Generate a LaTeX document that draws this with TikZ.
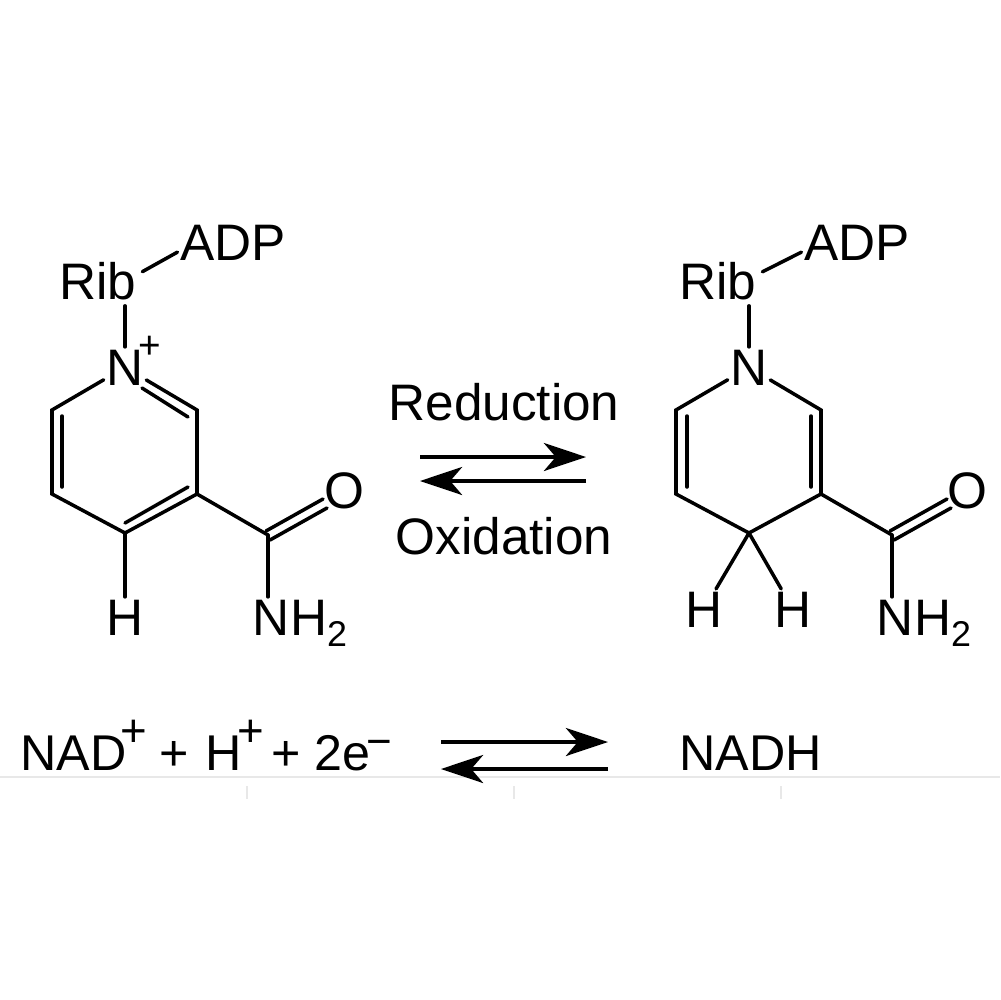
\documentclass[tikz,border=0pt]{standalone}
\usepackage{fontspec}
\setmainfont{Liberation Sans}
\usetikzlibrary{arrows.meta,calc}

\newcommand{\lowtwo}{\raisebox{-3.4pt}{\fontsize{10.2}{12}\selectfont 2}}
\newcommand{\highplus}{\raisebox{6.6pt}{\fontsize{13}{14}\selectfont +}}

\begin{document}
\begin{tikzpicture}[
    x=0.1mm,
    y=-0.1mm,
    >={Stealth[length=12pt,width=8pt,inset=3.4pt]},
    atom/.style={
      inner sep=0pt,
      outer sep=0.8pt,
      anchor=base,
      font=\fontsize{14.6}{16}\selectfont
    },
    word/.style={
      inner sep=0pt,
      anchor=base,
      font=\fontsize{14.6}{16}\selectfont
    },
    formula/.style={
      inner sep=0pt,
      anchor=base west,
      font=\fontsize{14.3}{16}\selectfont
    },
    bond/.style={
      line width=1pt,
      line cap=round
    },
    gap/.style={
      bond,
      shorten <=1pt
    },
    reaction/.style={
      ->,
      draw,
      line width=1pt
    },
    sheet/.style={
      draw=black!9,
      line width=0.4pt
    },
  ]
  \useasboundingbox (0,0) rectangle (1000,1000);

  %%%%%%%%%%%%%%%%%%%%%%%%%%%%%%%%%%%%%%%%%%%%%%
  %%%%%%%%%%%%%%%% ACTUAL NODES %%%%%%%%%%%%%%%%%
  %%%%%%%%%%%%%%%%%%%%%%%%%%%%%%%%%%%%%%%%%%%%%%
  % oxidised form
  \node[atom] (Rib-ox) at (98,299) {Rib};
  \node[atom] (ADP-ox) at (233,260) {ADP};
  \node[atom] (N-ox) at (125,385) {N};
  \node[atom, font=\fontsize{11}{12}\selectfont] (plus-ox) at (150,358) {+};
  \node[atom] (O-ox) at (344,508) {O};
  \node[atom] (H-ox) at (125,635) {H};
  \node[atom] (NH-ox) at (300,635) {NH\lowtwo};

  % reduced form
  \node[atom] (Rib-red) at (718,299) {Rib};
  \node[atom] (ADP-red) at (857,260) {ADP};
  \node[atom] (N-red) at (749,385) {N};
  \node[atom] (O-red) at (967,508) {O};
  \node[atom] (Ha-red) at (704,627) {H};
  \node[atom] (Hb-red) at (793,627) {H};
  \node[atom] (NH-red) at (924,635) {NH\lowtwo};

  % reaction texts
  \node[word] (reduction) at (504,420) {Reduction};
  \node[word] (oxidation) at (504,554) {Oxidation};
  \node[formula] (NAD) at (20,770) {NAD\kern-1.7pt\highplus\kern-0.5pt{} + \kern0.6ptH\kern-1.2pt\highplus\kern-1.8pt{} + 2e\kern-1.1pt\raisebox{3.9pt}{\fontsize{12.5}{14}\selectfont −}};
  \node[formula] (NADH) at (679,770) {NADH};

  %%%%%%%%%%%%%%%%%%%%%%%%%%%%%%%%%%%%%%%%%%%%%%
  %%%%%%%%%%%%%%%% HELPING NODES %%%%%%%%%%%%%%%%
  %%%%%%%%%%%%%%%%%%%%%%%%%%%%%%%%%%%%%%%%%%%%%%
  \coordinate (a-ox) at (197,410);
  \coordinate (b-ox) at (197,494);
  \coordinate (c-ox) at (125,533);
  \coordinate (d-ox) at (52,494);
  \coordinate (e-ox) at (52,410);
  \coordinate (co-ox) at (268,535);

  \coordinate (a-red) at (821,410);
  \coordinate (b-red) at (821,494);
  \coordinate (c-red) at (749,533);
  \coordinate (d-red) at (676,494);
  \coordinate (e-red) at (676,410);
  \coordinate (co-red) at (892,535);

  \coordinate (top-right) at (586,457);
  \coordinate (top-left) at (420,457);
  \coordinate (low-right) at (586,481);
  \coordinate (low-left) at (420,481);
  \coordinate (bot-top-right) at (608,742);
  \coordinate (bot-top-left) at (441,742);
  \coordinate (bot-low-right) at (608,769);
  \coordinate (bot-low-left) at (441,769);

  \coordinate (sheet-left) at (0,777);
  \coordinate (sheet-right) at (1000,777);

  %%%%%%%%%%%%%%%%%%%%%%%%%%%%%%%%%%%%%%%%%%%%%%
  %%%%%%%%%%%%%%%%%% PATHS %%%%%%%%%%%%%%%%%%%%%%
  %%%%%%%%%%%%%%%%%%%%%%%%%%%%%%%%%%%%%%%%%%%%%%
  \path[sheet] (sheet-left) -- (sheet-right);
  \foreach \tick in {247,514,781}
    \path[sheet] (\tick,786) -- (\tick,799);

  \draw[gap] (Rib-ox.10) -- (ADP-ox.190);
  \draw[gap] (N-ox |- Rib-ox.south) -- (N-ox);
  \draw[bond] (N-ox) -- (e-ox) -- (d-ox) -- (c-ox) -- (b-ox) -- (a-ox) -- (N-ox);
  \draw[bond] (62,416) -- (62,487);
  \draw[bond] (125,523) -- (188,487);
  \draw[bond] (142,388) -- (188,417);
  \draw[bond] (b-ox) -- (co-ox);
  \draw[bond] (co-ox) -- (NH-ox.north -| co-ox);
  \draw[bond] (c-ox) -- (H-ox);
  \draw[bond] (266,531) -- (323,499);
  \draw[bond] (270,540) -- (327,508);

  \draw[gap] (Rib-red.10) -- (ADP-red.190);
  \draw[gap] (N-red |- Rib-red.south) -- (N-red);
  \draw[bond] (N-red) -- (e-red) -- (d-red) -- (c-red) -- (b-red) -- (a-red) -- (N-red);
  \draw[bond] (687,416) -- (687,487);
  \draw[bond] (811,416) -- (811,487);
  \draw[bond] (b-red) -- (co-red);
  \draw[bond] (co-red) -- (NH-red.north -| co-red);
  \draw[bond] (c-red) -- (Ha-red);
  \draw[bond] (c-red) -- (Hb-red);
  \draw[bond] (890,531) -- (947,499);
  \draw[bond] (894,540) -- (951,508);

  \path[reaction] (top-left) -- (top-right);
  \path[reaction] (low-right) -- (low-left);
  \path[reaction] (bot-top-left) -- (bot-top-right);
  \path[reaction] (bot-low-right) -- (bot-low-left);

\end{tikzpicture}
\end{document}
